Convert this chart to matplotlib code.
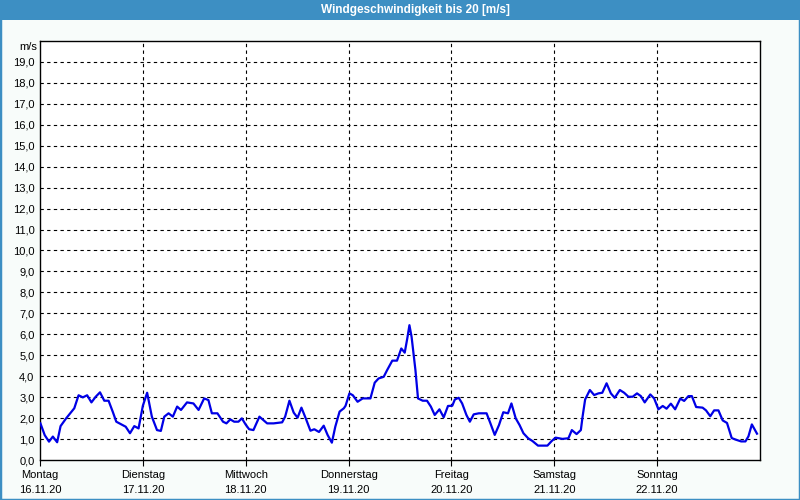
import matplotlib
matplotlib.use("Agg")
import matplotlib.pyplot as plt
from matplotlib.patches import Rectangle

BAR = "#3D8FC3"
BG = "#F8FCFA"
LINE = "#0000E6"

# ---- data (hours since Mon 16.11.20 00:00, m/s) ----------------------------
HOURS = [0.1, 1.1, 2.1, 3.0, 4.0, 4.8, 6.1, 7.3, 8.0, 9.0, 10.0, 11.0, 12.0, 13.0,
         14.0, 15.0, 16.0, 17.0, 17.8, 18.8, 20.0, 21.0, 22.0, 23.0, 24.0, 25.0,
         26.1, 27.3, 28.2, 29.0, 30.0, 31.0, 32.0, 32.9, 34.3, 35.8, 37.0, 38.3,
         39.3, 40.1, 41.4, 42.7, 43.5, 44.4, 45.3, 46.3, 47.1, 48.0, 48.8, 49.8,
         51.2, 53.0, 54.5, 56.5, 57.2, 58.2, 59.2, 60.1, 61.0, 62.1, 63.1, 64.0,
         65.1, 66.2, 67.1, 68.1, 68.9, 69.9, 70.9, 71.3, 72.2, 73.0, 74.1, 75.3,
         77.1, 78.1, 79.0, 80.2, 81.0, 82.2, 83.3, 84.3, 85.1, 85.7, 86.2, 86.7,
         87.6, 88.2, 89.3, 90.3, 91.2, 92.1, 93.2, 94.2, 95.2, 96.2, 96.8, 97.7,
         98.5, 99.5, 100.3, 101.2, 102.4, 104.2, 105.1, 106.1, 107.1, 108.1,
         109.2, 110.0, 111.0, 111.9, 112.8, 113.9, 114.9, 116.2, 118.4, 119.4,
         120.3, 121.9, 123.3, 124.1, 125.2, 126.2, 126.6, 127.2, 128.3, 129.3,
         130.3, 131.2, 132.2, 133.2, 134.1, 135.3, 136.3, 137.3, 138.3, 139.3,
         140.2, 141.1, 142.4, 143.3, 144.3, 145.3, 146.2, 147.2, 148.2, 149.4,
         150.3, 151.3, 152.1, 153.1, 154.6, 155.4, 156.4, 157.3, 158.3, 159.3,
         160.3, 161.4, 162.4, 163.6, 164.6, 165.3, 166.1, 167.3]
SPEED = [1.76, 1.20, 0.89, 1.13, 0.86, 1.63, 2.00, 2.30, 2.48, 3.10, 3.00, 3.10, 2.76, 3.03,
         3.24, 2.84, 2.84, 2.30, 1.84, 1.73, 1.60, 1.29, 1.63, 1.52, 2.60, 3.22,
         2.08, 1.44, 1.40, 2.08, 2.24, 2.08, 2.56, 2.40, 2.76, 2.71, 2.40, 2.95,
         2.87, 2.24, 2.24, 1.84, 1.76, 1.95, 1.84, 1.84, 2.00, 1.70, 1.48, 1.44,
         2.08, 1.76, 1.76, 1.81, 2.08, 2.84, 2.27, 2.03, 2.51, 1.95, 1.41, 1.48,
         1.35, 1.65, 1.21, 0.84, 1.60, 2.32, 2.48, 2.60, 3.19, 3.10, 2.79, 2.95,
         2.95, 3.70, 3.90, 3.98, 4.30, 4.75, 4.75, 5.33, 5.13, 5.81, 6.44, 5.89,
         4.30, 2.95, 2.84, 2.84, 2.56, 2.16, 2.43, 2.05, 2.59, 2.60, 2.90, 2.98,
         2.71, 2.16, 1.84, 2.19, 2.24, 2.24, 1.76, 1.21, 1.68, 2.29,
         2.24, 2.71, 2.00, 1.68, 1.29, 1.05, 0.92, 0.70, 0.70, 0.92,
         1.08, 1.02, 1.05, 1.44, 1.25, 1.44, 2.08, 2.90, 3.35, 3.11,
         3.19, 3.22, 3.67, 3.19, 2.98, 3.35, 3.22, 3.03, 3.03, 3.19,
         3.06, 2.76, 3.14, 2.95, 2.43, 2.59, 2.46, 2.70, 2.43, 2.94,
         2.83, 3.06, 3.06, 2.54, 2.51, 2.38, 2.10, 2.38, 2.38, 1.90,
         1.78, 1.06, 0.98, 0.90, 0.90, 1.14, 1.71, 1.27]

DAYS = ["Montag", "Dienstag", "Mittwoch", "Donnerstag", "Freitag", "Samstag", "Sonntag"]
DATES = ["16.11.20", "17.11.20", "18.11.20", "19.11.20", "20.11.20", "21.11.20", "22.11.20"]
YTICKS = list(range(0, 20))

plt.rcParams["font.family"] = ["Liberation Sans", "DejaVu Sans"]

fig = plt.figure(figsize=(8, 5), dpi=100, facecolor=BG)

# title bar + window border
fig.patches.append(Rectangle((0, 0.96), 1, 0.04, transform=fig.transFigure,
                             facecolor=BAR, edgecolor="none", zorder=0))
fig.patches.append(Rectangle((0, 0), 1, 1, transform=fig.transFigure,
                             facecolor="none", edgecolor=BAR, linewidth=2.5, zorder=5))
fig.text(0.519, 0.981, "Windgeschwindigkeit bis 20 [m/s]", color="white",
         fontsize=8.5, fontweight="bold", ha="center", va="center")

ax = fig.add_axes([0.05, 0.0794, 0.90, 0.8392])
ax.set_facecolor("white")
ax.plot(HOURS, SPEED, color=LINE, lw=1.6, zorder=3)

ax.set_xlim(0, 168)
ax.set_ylim(0, 20)

ax.set_yticks(YTICKS)
ax.set_yticklabels(["%d,0" % v for v in YTICKS], fontsize=8)
ax.tick_params(axis="y", length=0, pad=4)
ax.set_xticks([24 * i for i in range(len(DAYS))])
ax.set_xticklabels(["%s\n%s" % (d, t) for d, t in zip(DAYS, DATES)],
                   fontsize=8, linespacing=1.6)
ax.tick_params(axis="x", length=4, width=0.8, color="black", pad=3, direction="out")

for v in range(1, 20):
    ax.axhline(v, color="black", lw=0.8, ls=(0, (3, 3)), zorder=1)
for d in range(1, 7):
    ax.axvline(24 * d, color="black", lw=0.8, ls=(0, (3, 3)), zorder=1)

for s in ax.spines.values():
    s.set_color("black")
    s.set_linewidth(1.0)

fig.text(0.046, 0.907, "m/s", fontsize=8, ha="right", va="center")

fig.savefig("out.png", dpi=100, facecolor=BG)
